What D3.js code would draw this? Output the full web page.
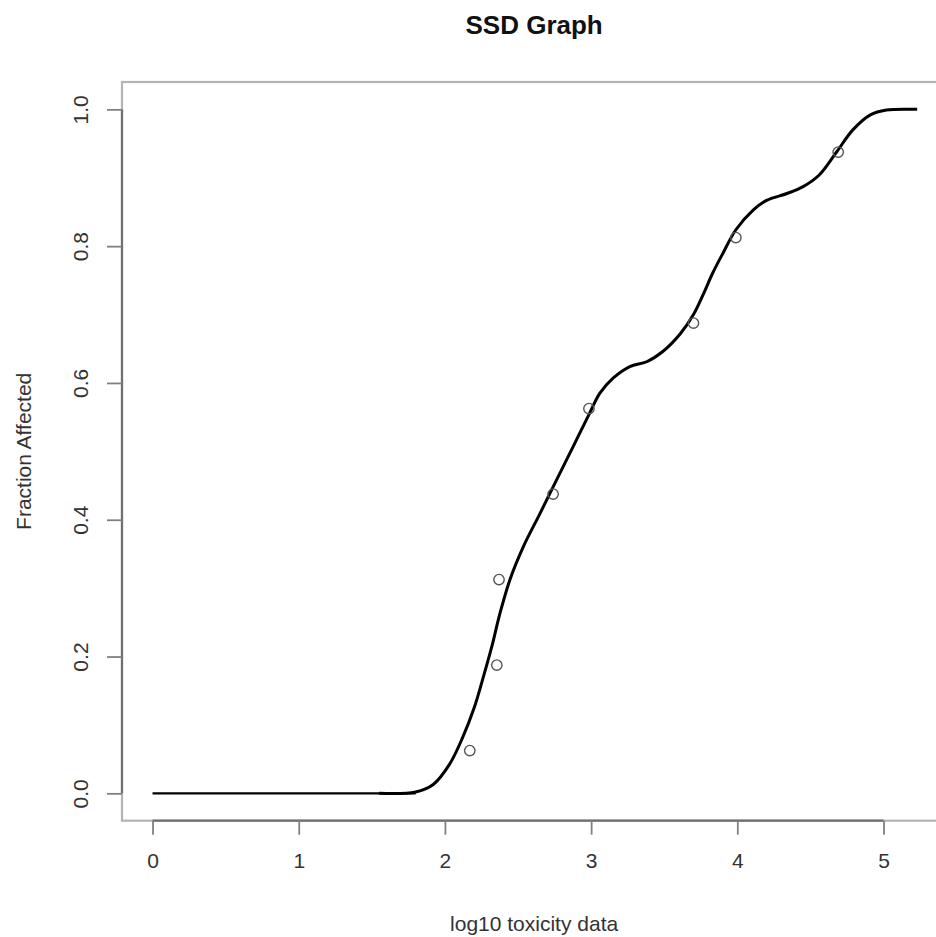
<!DOCTYPE html>
<html>
<head>
<meta charset="utf-8">
<script src="https://cdn.jsdelivr.net/npm/d3@7"></script>
<style>
  html, body { margin: 0; padding: 0; background: #fff; }
  svg { display: block; }
  text { font-family: "Liberation Sans", Arial, sans-serif; }
</style>
</head>
<body>
<script>
// ---- data ----
const title = "SSD Graph";
const xLabel = "log10 toxicity data";
const yLabel = "Fraction Affected";
const xTicks = [0, 1, 2, 3, 4, 5];
const yTicks = [0.0, 0.2, 0.4, 0.6, 0.8, 1.0];
const xRange = [0, 5.22];
const yRange = [0, 1];

// observed toxicity points
const pointX = [2.17, 2.355, 2.37, 2.74, 2.985, 3.70, 3.99, 4.69];
const pointY = [0.0625, 0.1875, 0.3125, 0.4375, 0.5625, 0.6875, 0.8125, 0.9375];

// lower tail (flat at zero)
const tailX = [0, 1.80];
const tailY = [0, 0];

// fitted cumulative curve
const curveX = [1.55, 1.80, 1.92, 2.03, 2.12, 2.20, 2.26, 2.32, 2.375, 2.444, 2.535, 2.65, 2.763, 2.877, 2.99, 3.06, 3.15, 3.265, 3.38, 3.49, 3.61, 3.70, 3.77, 3.83, 3.90, 3.99, 4.11, 4.20, 4.34, 4.45, 4.56, 4.68, 4.79, 4.91, 5.02, 5.23];
const curveY = [0, 0.002, 0.013, 0.042, 0.081, 0.125, 0.168, 0.214, 0.262, 0.312, 0.36, 0.409, 0.458, 0.507, 0.556, 0.585, 0.607, 0.624, 0.631, 0.646, 0.672, 0.70, 0.731, 0.76, 0.789, 0.824, 0.853, 0.867, 0.877, 0.887, 0.904, 0.938, 0.97, 0.992, 0.999, 1.0];

// ---- layout ----
const W = 936, H = 937;
const plotLeft = 122, plotTop = 82, plotBottom = 820.7;
const xUnit = 146.2;
const xPad = (xRange[1] - xRange[0]) * 0.04;
const yPad = (yRange[1] - yRange[0]) * 0.04;
const xDom = [xRange[0] - xPad, xRange[1] + xPad];
const yDom = [yRange[0] - yPad, yRange[1] + yPad];
const plotRight = plotLeft + (xDom[1] - xDom[0]) * xUnit;

const x = d3.scaleLinear().domain(xDom).range([plotLeft, plotRight]);
const y = d3.scaleLinear().domain(yDom).range([plotBottom, plotTop]);

const svg = d3.select("body").append("svg").attr("width", W).attr("height", H);

// box
svg.append("rect")
  .attr("x", plotLeft).attr("y", plotTop)
  .attr("width", plotRight - plotLeft).attr("height", plotBottom - plotTop)
  .attr("fill", "none").attr("stroke", "#b4b4b4").attr("stroke-width", 2.2);

// x axis
const xAxis = d3.axisBottom(x).tickValues(xTicks).tickFormat(d3.format("d")).tickSize(14).tickPadding(18);
const gx = svg.append("g").attr("transform", `translate(0,${plotBottom})`).call(xAxis);
gx.select(".domain").attr("d", `M${x(xTicks[0])},0H${x(xTicks[xTicks.length-1])}`)
  .attr("stroke", "#707070").attr("stroke-width", 2.2);
gx.selectAll(".tick line").attr("stroke", "#808080").attr("stroke-width", 1.8);
gx.selectAll(".tick text").attr("font-size", 21).attr("fill", "#333")
  .attr("font-family", "Liberation Sans, Arial, sans-serif");

// y axis
const yAxis = d3.axisLeft(y).tickValues(yTicks).tickFormat(d3.format(".1f")).tickSize(15).tickPadding(0);
const gy = svg.append("g").attr("transform", `translate(${plotLeft},0)`).call(yAxis);
gy.select(".domain").attr("d", `M0,${y(yTicks[0])}V${y(yTicks[yTicks.length-1])}`)
  .attr("stroke", "#707070").attr("stroke-width", 2.2);
gy.selectAll(".tick line").attr("stroke", "#808080").attr("stroke-width", 1.8);
gy.selectAll(".tick text")
  .attr("x", null).attr("dy", null)
  .attr("transform", "translate(-34,0) rotate(-90)")
  .attr("text-anchor", "middle")
  .attr("font-size", 21).attr("fill", "#333")
  .attr("font-family", "Liberation Sans, Arial, sans-serif");

// lines
const line = d3.line().x(d => x(d[0])).y(d => y(d[1]));
svg.append("path")
  .datum(tailX.map((v, i) => [v, tailY[i]]))
  .attr("d", line)
  .attr("fill", "none").attr("stroke", "#000").attr("stroke-width", 2.2);

svg.append("path")
  .datum(curveX.map((v, i) => [v, curveY[i]]))
  .attr("d", line.curve(d3.curveCatmullRom.alpha(0.5)))
  .attr("fill", "none").attr("stroke", "#000").attr("stroke-width", 3)
  .attr("stroke-linejoin", "round");

// points
svg.append("g").selectAll("circle")
  .data(pointX.map((v, i) => [v, pointY[i]]))
  .join("circle")
  .attr("cx", d => x(d[0])).attr("cy", d => y(d[1])).attr("r", 5.2)
  .attr("fill", "none").attr("stroke", "#555").attr("stroke-width", 1.4);

// title & labels
const cx = (plotLeft + plotRight) / 2;
svg.append("text").attr("x", cx).attr("y", 34).attr("text-anchor", "middle")
  .attr("font-size", 26).attr("font-weight", "bold").attr("fill", "#111").text(title);
svg.append("text").attr("x", cx).attr("y", 931).attr("text-anchor", "middle")
  .attr("font-size", 21).attr("fill", "#333").text(xLabel);
svg.append("text").attr("transform", `translate(31,${(plotTop + plotBottom) / 2}) rotate(-90)`)
  .attr("text-anchor", "middle").attr("font-size", 21).attr("fill", "#333").text(yLabel);
</script>
</body>
</html>
